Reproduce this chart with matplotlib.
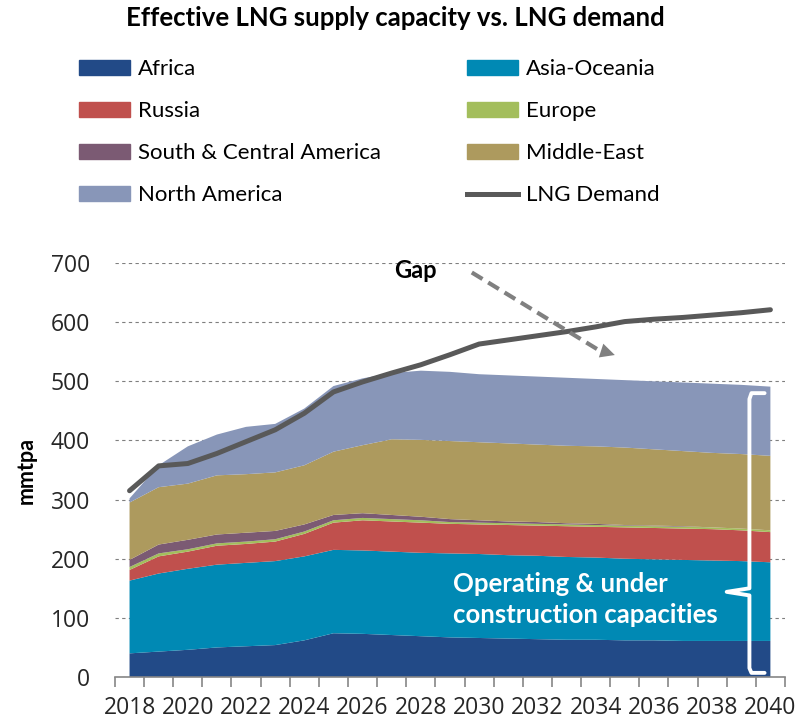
import numpy as np
import matplotlib
matplotlib.use("Agg")
import matplotlib.pyplot as plt
from matplotlib.patches import Patch
from matplotlib.lines import Line2D

years = list(range(2018, 2041))

# mmtpa
africa = [40, 43, 46, 50, 52, 54, 62, 74, 73, 71, 69, 67, 66, 65, 64, 63, 63, 62, 62, 61, 61, 61, 61]
asia_oceania = [123, 132, 137, 140, 141, 142, 142, 141, 141, 141, 141, 142, 142, 141, 141, 140, 139, 138, 137, 137, 136, 135, 133]
russia = [18, 29, 29, 32, 32, 33, 38, 46, 51, 51, 51, 50, 50, 51, 51, 52, 52, 53, 53, 53, 53, 52, 51]
europe = [5, 5, 4, 4, 4, 4, 4, 4, 4, 4, 4, 3, 3, 3, 3, 3, 3, 3, 3, 3, 3, 3, 3]
south_central_america = [12, 15, 16, 15, 15, 14, 12, 9, 8, 7, 6, 5, 4, 3, 3, 2, 2, 1, 1, 1, 0, 0, 0]
middle_east = [97, 97, 95, 100, 99, 99, 100, 107, 115, 128, 130, 132, 132, 132, 131, 131, 131, 131, 129, 127, 126, 126, 126]
north_america = [7, 37, 63, 69, 80, 82, 96, 111, 113, 112, 117, 117, 115, 115, 115, 115, 114, 114, 115, 116, 117, 117, 117]
lng_demand = [315, 357, 361, 378, 398, 418, 446, 482, 499, 514, 528, 545, 563, 570, 577, 584, 592, 601, 605, 608, 612, 616, 621]

names = ["Africa", "Asia-Oceania", "Russia", "Europe", "South & Central America",
         "Middle-East", "North America"]
colors = ["#224a87", "#0089b4", "#c0504d", "#a3be5c", "#7b5a73", "#ad9a5e", "#8896b8"]
series = [africa, asia_oceania, russia, europe, south_central_america, middle_east, north_america]

fig = plt.figure(figsize=(8.12, 7.24), dpi=100)
ax = fig.add_axes([0.1416, 0.0649, 0.8251, 0.5718])

x = np.arange(len(years))
ax.stackplot(x, *series, colors=colors, linewidth=0, zorder=2)
ax.plot(x, lng_demand, color="#595959", lw=3.6, solid_capstyle="round", zorder=4)

ax.set_xlim(-0.5, len(years) - 0.5)
ax.set_ylim(0, 700)
ax.set_yticks(range(0, 701, 100))
ax.grid(axis="y", color="#7f7f7f", lw=0.8, linestyle=(0, (3, 3)))
ax.set_axisbelow(True)

for s in ["left", "right", "top"]:
    ax.spines[s].set_visible(False)
ax.spines["bottom"].set_color("#868686")
ax.spines["bottom"].set_linewidth(1.2)

tick_font = {"family": "Open Sans", "size": 16.5}
ax.set_xticks(x[::2])
ax.set_xticklabels([str(y) for y in years[::2]], fontdict=tick_font, color="#262626")
ax.set_xticks(np.arange(-0.5, len(years)), minor=True)
ax.tick_params(axis="x", which="major", length=0, pad=14)
ax.tick_params(axis="x", which="minor", length=7, width=1.2, color="#868686", direction="out")
ax.set_yticklabels([str(v) for v in range(0, 701, 100)], fontdict=tick_font, color="#262626")
ax.tick_params(axis="y", length=0, pad=18)

ax.set_ylabel("mmtpa", fontsize=15.5, fontweight="bold", family="Lato", labelpad=10)

# gap annotation
ax.text(9.8, 688, "Gap", fontsize=17, fontweight="bold", family="Lato",
        ha="center", va="center", zorder=5)
ax.plot([11.75, 16.1], [684, 553], color="#808080", lw=3, linestyle=(0, (3, 1.6)), zorder=5)
ax.annotate("", xy=(16.75, 543), xytext=(16.0, 555),
            arrowprops=dict(arrowstyle="-|>", color="#808080", lw=0, mutation_scale=26),
            zorder=5)

# brace for operating capacities
bx = [21.8, 21.35, 21.28, 21.28, 20.5, 21.28, 21.28, 21.35, 21.8]
by = [480, 480, 470, 150, 144, 138, 15, 7, 7]
ax.plot(bx, by, color="white", lw=2.8, solid_joinstyle="round", solid_capstyle="round", zorder=5)
ax.text(11.1, 131, "Operating & under\nconstruction capacities", color="white",
        fontsize=18.5, fontweight="bold", family="Lato", ha="left", va="center",
        linespacing=1.35, zorder=5)

fig.text(0.487, 0.975, "Effective LNG supply capacity vs. LNG demand", fontsize=18.5,
         fontweight="bold", family="Lato", ha="center", va="center")

patches = [Patch(color=c, label=n) for c, n in zip(colors, names)]
demand_h = Line2D([], [], color="#595959", lw=3.6, label="LNG Demand")
leg_kw = dict(loc="upper left", ncol=1, frameon=False, prop={"family": "Lato", "size": 16},
              handlelength=2.3, handleheight=0.7, handletextpad=0.35,
              labelspacing=0.99, borderaxespad=0, borderpad=0)
leg1 = fig.legend(handles=[patches[0], patches[2], patches[4], patches[6]],
                  bbox_to_anchor=(0.097, 0.918), **leg_kw)
leg2 = fig.legend(handles=[patches[1], patches[3], patches[5], demand_h],
                  bbox_to_anchor=(0.575, 0.918), **leg_kw)

fig.savefig("out.png", dpi=100)
